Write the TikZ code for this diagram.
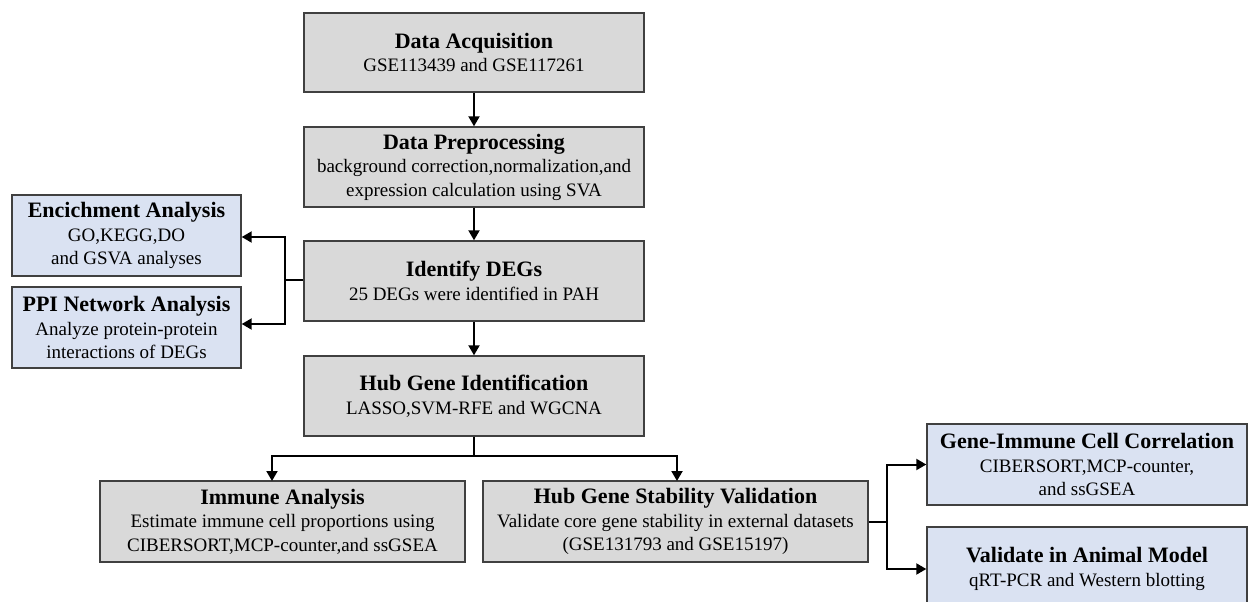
\documentclass[tikz,border=0pt]{standalone}
\usepackage{fontspec}
\setmainfont{Liberation Serif}
\usetikzlibrary{arrows.meta}
\definecolor{boxgray}{HTML}{D9D9D9}
\definecolor{boxblue}{HTML}{DAE2F2}
\definecolor{edgecol}{HTML}{404040}
\newcommand{\ttl}[1]{{\bfseries\fontsize{22}{26}\selectfont #1}}
\begin{document}
\begin{tikzpicture}[x=1pt,y=-1pt,
  basebox/.style={draw=edgecol, line width=1.4pt, align=center, inner sep=0pt,
    font=\rmfamily\fontsize{19}{23.5}\selectfont, text=black},
  graybox/.style={basebox, fill=boxgray},
  bluebox/.style={basebox, fill=boxblue},
  conn/.style={line width=2pt, black, -{Triangle[length=10pt,width=11pt]}},
  plain/.style={line width=2pt, black}]
\fill[white] (0,0) rectangle (1251,602);
\useasboundingbox (0,0) rectangle (1251,602);

\node[graybox, minimum width=340pt, minimum height=79pt] (acq) at (474,52.5)
  {\ttl{Data Acquisition}\\GSE113439 and GSE117261};
\node[graybox, minimum width=340pt, minimum height=80pt] (pre) at (474,167)
  {\ttl{Data Preprocessing}\\background correction,normalization,and\\expression calculation using SVA};
\node[graybox, minimum width=340pt, minimum height=80pt] (deg) at (474,281)
  {\ttl{Identify DEGs}\\25 DEGs were identified in PAH};
\node[graybox, minimum width=340pt, minimum height=80pt] (hub) at (474,396)
  {\ttl{Hub Gene Identification}\\LASSO,SVM-RFE and WGCNA};

\node[bluebox, minimum width=229pt, minimum height=81pt] (enr) at (126.5,235.5)
  {\ttl{Encichment Analysis}\\GO,KEGG,DO\\and GSVA analyses};
\node[bluebox, minimum width=229pt, minimum height=81pt] (ppi) at (126.5,327.5)
  {\ttl{PPI Network Analysis}\\Analyze protein-protein\\interactions of DEGs};

\node[graybox, minimum width=365pt, minimum height=81pt] (imm) at (282.5,521.5)
  {\ttl{Immune Analysis}\\Estimate immune cell proportions using\\CIBERSORT,MCP-counter,and ssGSEA};
\node[graybox, minimum width=385pt, minimum height=81pt] (stab) at (675.5,521.5)
  {\ttl{Hub Gene Stability Validation}\\Validate core gene stability in external datasets\\(GSE131793 and GSE15197)};

\node[bluebox, minimum width=320pt, minimum height=81pt] (gic) at (1087,464.5)
  {\ttl{Gene-Immune Cell Correlation}\\CIBERSORT,MCP-counter,\\and ssGSEA};
\node[bluebox, minimum width=320pt, minimum height=84pt] (ani) at (1087,569)
  {\ttl{Validate in Animal Model}\\qRT-PCR and Western blotting};

\draw[conn] (acq) -- (pre);
\draw[conn] (pre) -- (deg);
\draw[conn] (deg) -- (hub);

\coordinate (lsplit) at (285,280);
\draw[plain] (deg.west |- lsplit) -- (lsplit);
\draw[conn] (lsplit) |- (enr.east |- 0,237);
\draw[conn] (lsplit) |- (ppi.east |- 0,324);

\coordinate (bsplit) at (474,456);
\draw[plain] (hub.south) -- (bsplit);
\draw[conn] (bsplit) -| (272,481);
\draw[conn] (bsplit) -| (677,481);

\coordinate (rsplit) at (887,522);
\draw[plain] (stab.east |- rsplit) -- (rsplit);
\draw[conn] (rsplit) |- (gic.west);
\draw[conn] (rsplit) |- (ani.west);
\end{tikzpicture}
\end{document}
